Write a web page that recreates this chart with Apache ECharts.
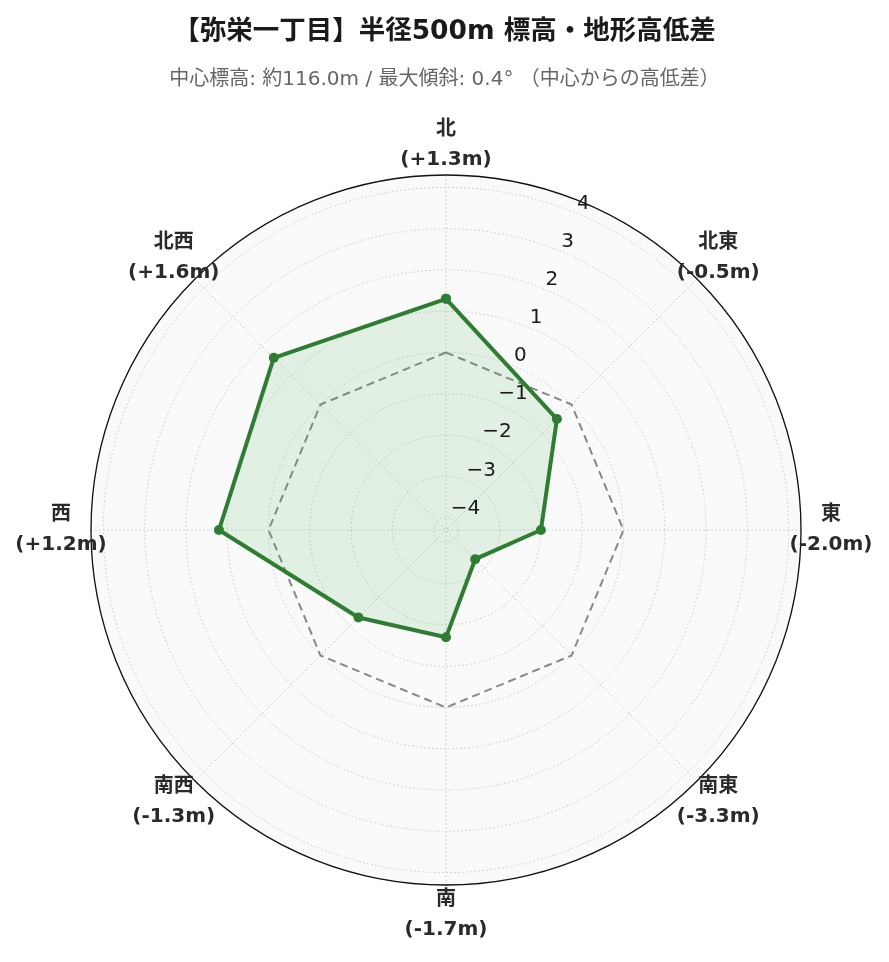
<!DOCTYPE html>
<html>
<head>
<meta charset="utf-8">
<script src="https://cdn.jsdelivr.net/npm/echarts@6/dist/echarts.min.js"></script>
<style>
html,body{margin:0;padding:0;background:#fff;}
#chart{width:889px;height:962px;}
</style>
</head>
<body>
<div id="chart"></div>
<script>
// ---- data ----
const directions = ['北', '北東', '東', '南東', '南', '南西', '西', '北西'];
const bearings = [0, 45, 90, 135, 180, 225, 270, 315];
const elevationDiff = [1.3, -0.5, -2.0, -3.3, -1.7, -1.3, 1.2, 1.6];
const zeroLine = [0, 0, 0, 0, 0, 0, 0, 0];
const radialTicks = [-4, -3, -2, -1, 0, 1, 2, 3, 4];
const radialMin = -4.3;
const radialMax = 4.3;
const titleText = '【弥栄一丁目】半径500m 標高・地形高低差';
const subtitleText = '中心標高: 約116.0m / 最大傾斜: 0.4° （中心からの高低差）';

const FONT = "'DejaVu Sans', 'Noto Sans CJK JP', sans-serif";

function closed(vals) {
  const pts = vals.map((v, i) => [v, bearings[i]]);
  pts.push([vals[0], 360]);
  return pts;
}
function fmtDelta(v) {
  return '(' + (v > 0 ? '+' : '') + v.toFixed(1) + 'm)';
}

const chart = echarts.init(document.getElementById('chart'), null, {renderer: 'canvas'});
const center = [446, 530];
const R = 355;
const gridLine = {color: '#c8c8c8', width: 1, type: [1.5, 2.5]};

const option = {
  animation: false,
  backgroundColor: '#ffffff',
  textStyle: {fontFamily: FONT},
  title: [
    {text: titleText, left: 'center', top: 14,
     textStyle: {fontFamily: FONT, fontSize: 26.5, fontWeight: 'bold', color: '#1a1a1a'}},
    {text: subtitleText, left: 'center', top: 65,
     textStyle: {fontFamily: FONT, fontSize: 20, fontWeight: 'normal', color: '#666'}}
  ],
  polar: [
    {center: center, radius: R},
    {center: center, radius: R},
    {center: center, radius: R + 30}
  ],
  angleAxis: [
    {polarIndex: 0, type: 'value', min: 0, max: 360, interval: 45, startAngle: 90, clockwise: true, z: 1,
     axisLine: {show: true, lineStyle: {color: '#111', width: 1.3}},
     axisTick: {show: false}, axisLabel: {show: false},
     splitLine: {show: true, lineStyle: gridLine}},
    {polarIndex: 1, type: 'value', min: 0, max: 360, interval: 45, startAngle: 67.5, clockwise: true, z: -1,
     axisLine: {show: false}, axisTick: {show: false}, axisLabel: {show: false},
     splitLine: {show: false},
     splitArea: {show: true, areaStyle: {color: ['#fafafa']}}},
    {polarIndex: 2, type: 'value', min: 0, max: 360, startAngle: 90, clockwise: true, show: false}
  ],
  radiusAxis: [
    {polarIndex: 0, type: 'value', min: radialMin, max: radialMax, minInterval: 1, maxInterval: 1, z: 1,
     axisLine: {show: false}, axisTick: {show: false}, axisLabel: {show: false},
     splitLine: {show: true, lineStyle: gridLine},
     splitArea: {show: false}},
    {polarIndex: 1, type: 'value', min: radialMin, max: radialMax, minInterval: 1, maxInterval: 1, z: 10,
     axisLine: {show: false}, axisTick: {show: false}, splitLine: {show: false},
     axisLabel: {show: true, margin: 0, align: 'left', verticalAlign: 'bottom',
       fontFamily: FONT, fontSize: 20, color: '#1a1a1a',
       formatter: function (v) {
         const r = Math.round(v);
         if (Math.abs(v - r) > 1e-6 || radialTicks.indexOf(r) < 0) return '';
         return r < 0 ? '\u2212' + Math.abs(r) : String(r);
       }}},
    {polarIndex: 2, type: 'value', min: 0, max: 1, show: false}
  ],
  series: [
    {type: 'line', coordinateSystem: 'polar', polarIndex: 0, z: 2,
     data: closed(zeroLine), symbol: 'none', silent: true,
     lineStyle: {color: '#888888', width: 2, type: [8, 5]}},
    {type: 'line', coordinateSystem: 'polar', polarIndex: 0, z: 3,
     data: closed(elevationDiff), symbol: 'circle', symbolSize: 10,
     itemStyle: {color: '#2e7d32'},
     lineStyle: {color: '#2e7d32', width: 4},
     areaStyle: {color: 'rgba(76,175,80,0.19)', origin: 'start'}},
    {type: 'scatter', coordinateSystem: 'polar', polarIndex: 2, z: 1,
     symbolSize: 1, itemStyle: {color: 'rgba(0,0,0,0)'},
     data: directions.map((d, i) => ({name: d, value: [1, bearings[i]]})),
     label: {show: true, position: 'inside', color: '#2a2a2a', opacity: 1,
       formatter: function (p) {
         return '{d|' + p.name + '}\n{v|' + fmtDelta(elevationDiff[p.dataIndex]) + '}';
       },
       rich: {
         d: {fontFamily: FONT, fontSize: 20, fontWeight: 'bold', color: '#2a2a2a', lineHeight: 30, align: 'center'},
         v: {fontFamily: FONT, fontSize: 20, fontWeight: 'bold', color: '#2a2a2a', lineHeight: 30, align: 'center'}
       }}}
  ]
};
chart.setOption(option);
</script>
</body>
</html>
